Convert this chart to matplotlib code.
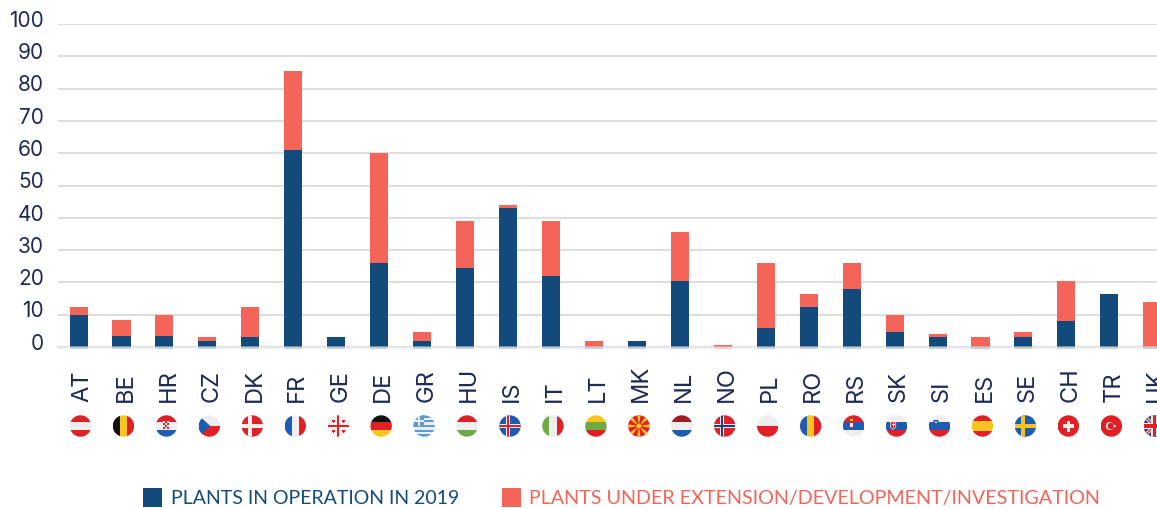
import matplotlib
matplotlib.use("Agg")
import matplotlib.pyplot as plt
from matplotlib.patches import Circle, Rectangle, Polygon
from matplotlib.transforms import ScaledTranslation
import numpy as np

plt.rcParams['font.family'] = ['Lato', 'DejaVu Sans']

countries = ['AT', 'BE', 'HR', 'CZ', 'DK', 'FR', 'GE', 'DE', 'GR', 'HU', 'IS', 'IT', 'LT',
             'MK', 'NL', 'NO', 'PL', 'RO', 'RS', 'SK', 'SI', 'ES', 'SE', 'CH', 'TR', 'UK']
in_operation = [10, 3.5, 3.5, 2, 3, 61, 3, 26, 2, 24.5, 43, 22, 0,
                2, 20.5, 0, 6, 12.5, 18, 4.5, 3, 0, 3, 8, 16.5, 0]
under_development = [2.5, 5, 6.5, 1, 9.5, 24.5, 0, 34, 2.5, 14.5, 1, 17, 2,
                     0, 15, 0.5, 20, 4, 8, 5.5, 1, 3, 1.5, 12.5, 0, 14]
y_ticks = list(range(0, 101, 10))
legend_labels = ['PLANTS IN OPERATION IN 2019', 'PLANTS UNDER EXTENSION/DEVELOPMENT/INVESTIGATION']

W, H = 1157, 508
NAVY = '#134a7c'
CORAL = '#f46459'
TEXT = '#1d2a56'
GRID = '#dedede'

# flag colours
RED = '#e01f26'
WHT = '#eeeeee'
BLU = '#1f5bb0'
DBL = '#1c3f7c'
YEL = '#f7c51e'
GRN = '#6fa944'
BLK = '#111111'

fig = plt.figure(figsize=(W / 100, H / 100), dpi=100)

# y=0 at pixel 347, y=100 at pixel 24, first label centre at pixel 80.5
left, right = 58, W
ax = fig.add_axes([left / W, (H - 347) / H, (right - left) / W, (347 - 24) / H])
step = 42.95
ax.set_xlim((left - 80.5) / step, (right - 80.5) / step)
ax.set_ylim(0, 100)

x = np.arange(len(countries))
# bars sit about 2px left of their labels in the original
bar_x = x - 0.045
ax.bar(bar_x, in_operation, width=0.42, color=NAVY, zorder=3)
ax.bar(bar_x, under_development, width=0.42, bottom=in_operation, color=CORAL, zorder=3)

# pale foot under each bar, the zero line runs across it
foot_colors = [CORAL if a == 0 and b < 1 else NAVY for a, b in zip(in_operation, under_development)]
ax.bar(bar_x, -0.6, width=0.42, color=foot_colors, alpha=0.35, zorder=3, clip_on=False)

ax.set_yticks(y_ticks)
ax.set_xticks(x)
ax.set_xticklabels(countries, rotation=90, va='bottom', ha='center', fontsize=17, color=TEXT,
                   family=['Inter', 'DejaVu Sans'])
ax.tick_params(axis='x', length=0, pad=40)
ax.tick_params(axis='y', length=0, pad=10, labelsize=15, labelcolor=TEXT)
for lab in ax.get_xticklabels():
    lab.set_transform(lab.get_transform() + ScaledTranslation(1.5 / 72, 0.7 / 72, fig.dpi_scale_trans))
for lab in ax.get_yticklabels():
    lab.set_va('baseline')
    lab.set_family(['Inter', 'DejaVu Sans'])
    lab.set_transform(lab.get_transform() + ScaledTranslation(0, -2 / 72, fig.dpi_scale_trans))
ax.grid(axis='y', color=GRID, linewidth=1.5, zorder=1)
ax.set_axisbelow(True)
ax.axhline(0, color='#dcdfe6', linewidth=1.8, alpha=0.6, zorder=5, clip_on=False)
for s in ax.spines.values():
    s.set_visible(False)

# overlay in pixel coordinates for flags and legend
ov = fig.add_axes([0, 0, 1, 1], facecolor='none')
ov.set_xlim(0, W)
ov.set_ylim(H, 0)
ov.axis('off')

R = 10.7
FLAG_Y = 426


def rect(cx, x0, y0, w, h, color, clip):
    p = Rectangle((cx + x0, FLAG_Y + y0), w, h, color=color, lw=0)
    ov.add_patch(p)
    p.set_clip_path(clip)


def poly(cx, pts, color, clip):
    p = Polygon([(cx + a, FLAG_Y + b) for a, b in pts], color=color, lw=0)
    ov.add_patch(p)
    p.set_clip_path(clip)


def hstripes(cx, colors, clip, weights=None):
    weights = weights or [1] * len(colors)
    y = -R
    for c, w in zip(colors, weights):
        h = 2 * R * w / sum(weights)
        rect(cx, -R, y, 2 * R, h + 0.3, c, clip)
        y += h


def vstripes(cx, colors, clip):
    w = 2 * R / len(colors)
    for i, c in enumerate(colors):
        rect(cx, -R + i * w, -R, w + 0.3, 2 * R, c, clip)


def cross(cx, bg, outer, inner, clip, off=-2.5):
    rect(cx, -R, -R, 2 * R, 2 * R, bg, clip)
    rect(cx, off - 2, -R, 4, 2 * R, outer, clip)
    rect(cx, -R, -2, 2 * R, 4, outer, clip)
    if inner:
        rect(cx, off - 1, -R, 2, 2 * R, inner, clip)
        rect(cx, -R, -1, 2 * R, 2, inner, clip)


def draw_flag(code, cx):
    clip = Circle((cx, FLAG_Y), R, transform=ov.transData)
    if code == 'AT':
        hstripes(cx, [RED, WHT, RED], clip)
    elif code == 'BE':
        vstripes(cx, [BLK, YEL, RED], clip)
    elif code == 'HR':
        hstripes(cx, [RED, WHT, BLU], clip)
        rect(cx, -3, -5, 6, 8, RED, clip)
        for i in range(3):
            for j in range(4):
                if (i + j) % 2 == 0:
                    rect(cx, -3 + i * 2, -5 + j * 2, 2, 2, WHT, clip)
    elif code == 'CZ':
        hstripes(cx, [WHT, RED], clip)
        poly(cx, [(-R, -R), (1, 0), (-R, R)], BLU, clip)
    elif code == 'DK':
        cross(cx, RED, WHT, None, clip)
    elif code == 'FR':
        vstripes(cx, [BLU, WHT, RED], clip)
    elif code == 'GE':
        rect(cx, -R, -R, 2 * R, 2 * R, WHT, clip)
        rect(cx, -1.2, -R, 2.4, 2 * R, RED, clip)
        rect(cx, -R, -1.2, 2 * R, 2.4, RED, clip)
        for a in (-5, 5):
            for b in (-5, 5):
                rect(cx, a - 1.5, b - 0.6, 3, 1.2, RED, clip)
                rect(cx, a - 0.6, b - 1.5, 1.2, 3, RED, clip)
    elif code == 'DE':
        hstripes(cx, [BLK, RED, YEL], clip)
    elif code == 'GR':
        hstripes(cx, ['#5b9bd5', WHT] * 4 + ['#5b9bd5'], clip)
        rect(cx, -R, -R, R, R, '#5b9bd5', clip)
        rect(cx, -R, -6.5, R, 2, WHT, clip)
        rect(cx, -6.5, -R, 2, R, WHT, clip)
    elif code == 'HU':
        hstripes(cx, [RED, WHT, GRN], clip)
    elif code == 'IS':
        cross(cx, BLU, WHT, RED, clip)
    elif code == 'IT':
        vstripes(cx, [GRN, WHT, RED], clip)
    elif code == 'LT':
        hstripes(cx, [YEL, GRN, RED], clip)
    elif code == 'MK':
        rect(cx, -R, -R, 2 * R, 2 * R, RED, clip)
        for a in range(0, 360, 45):
            t1, t2 = np.radians(a - 9), np.radians(a + 9)
            poly(cx, [(0, 0), (14 * np.cos(t1), 14 * np.sin(t1)), (14 * np.cos(t2), 14 * np.sin(t2))], YEL, clip)
        ov.add_patch(Circle((cx, FLAG_Y), 3.4, color=RED, lw=0))
        ov.add_patch(Circle((cx, FLAG_Y), 2.6, color=YEL, lw=0))
    elif code == 'NL':
        hstripes(cx, ['#a01c22', WHT, BLU], clip)
    elif code == 'NO':
        cross(cx, RED, WHT, DBL, clip)
    elif code == 'PL':
        hstripes(cx, [WHT, RED], clip)
    elif code == 'RO':
        vstripes(cx, [BLU, YEL, RED], clip)
    elif code == 'RS':
        hstripes(cx, [RED, BLU, WHT], clip)
        rect(cx, -5, -6, 5, 8, RED, clip)
        rect(cx, -4, -3.5, 3, 4, WHT, clip)
        rect(cx, -4, -7.5, 3, 2, YEL, clip)
    elif code == 'SK':
        hstripes(cx, [WHT, BLU, RED], clip)
        poly(cx, [(-6.5, -4.5), (-0.5, -4.5), (-0.5, 1), (-3.5, 4), (-6.5, 1)], WHT, clip)
        poly(cx, [(-5.8, -3.8), (-1.2, -3.8), (-1.2, 0.7), (-3.5, 3), (-5.8, 0.7)], RED, clip)
        rect(cx, -4, -3.2, 1, 4.5, WHT, clip)
        rect(cx, -5, -2, 3, 1, WHT, clip)
    elif code == 'SI':
        hstripes(cx, [WHT, BLU, RED], clip)
        poly(cx, [(-6, -6), (-1, -6), (-1, -2), (-3.5, 0), (-6, -2)], BLU, clip)
        poly(cx, [(-5, -3), (-3.5, -5), (-2, -3)], WHT, clip)
    elif code == 'ES':
        hstripes(cx, [RED, YEL, RED], clip, [1, 2, 1])
    elif code == 'SE':
        cross(cx, BLU, YEL, None, clip)
    elif code == 'CH':
        rect(cx, -R, -R, 2 * R, 2 * R, RED, clip)
        rect(cx, -1.8, -5.5, 3.6, 11, WHT, clip)
        rect(cx, -5.5, -1.8, 11, 3.6, WHT, clip)
    elif code == 'TR':
        rect(cx, -R, -R, 2 * R, 2 * R, RED, clip)
        ov.add_patch(Circle((cx - 1.5, FLAG_Y), 4, color=WHT, lw=0))
        ov.add_patch(Circle((cx - 0.5, FLAG_Y), 3.2, color=RED, lw=0))
        ov.add_patch(Circle((cx + 3.5, FLAG_Y), 1.2, color=WHT, lw=0))
    elif code == 'UK':
        rect(cx, -R, -R, 2 * R, 2 * R, DBL, clip)
        for pts, col in [([(-R, -R + 2.5), (-R + 2.5, -R), (R, R - 2.5), (R - 2.5, R)], WHT),
                         ([(-R, R - 2.5), (-R + 2.5, R), (R, -R + 2.5), (R - 2.5, -R)], WHT),
                         ([(-R, -R + 1), (-R + 1, -R), (R, R - 1), (R - 1, R)], RED),
                         ([(-R, R - 1), (-R + 1, R), (R, -R + 1), (R - 1, -R)], RED)]:
            poly(cx, pts, col, clip)
        rect(cx, -3, -R, 6, 2 * R, WHT, clip)
        rect(cx, -R, -3, 2 * R, 6, WHT, clip)
        rect(cx, -1.6, -R, 3.2, 2 * R, RED, clip)
        rect(cx, -R, -1.6, 2 * R, 3.2, RED, clip)


for i, code in enumerate(countries):
    draw_flag(code, 80.5 + i * step)

# legend
ov.add_patch(Rectangle((143, 488), 19, 19, color=NAVY, lw=0))
ov.text(171, 498.5, legend_labels[0], color=NAVY, fontsize=14.05, va='center', ha='left')
ov.add_patch(Rectangle((502, 488), 19, 19, color=CORAL, lw=0))
ov.text(529, 498.5, legend_labels[1], color=CORAL, fontsize=14.22, va='center', ha='left')

fig.savefig('out.png', dpi=100)
